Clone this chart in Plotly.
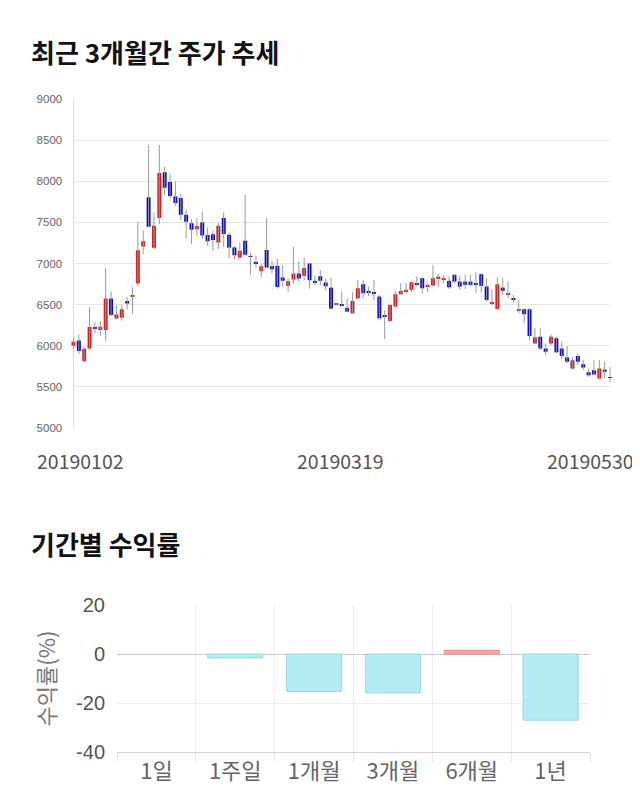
import plotly.graph_objects as go

# ---------------- data ----------------
trade_days = {
    1: [2, 3, 4, 7, 8, 9, 10, 11, 14, 15, 16, 17, 18, 21, 22, 23, 24, 25, 28, 29, 30, 31],
    2: [1, 7, 8, 11, 12, 13, 14, 15, 18, 19, 20, 21, 22, 25, 26, 27, 28],
    3: [4, 5, 6, 7, 8, 11, 12, 13, 14, 15, 18, 19, 20, 21, 22, 25, 26, 27, 28, 29],
    4: [1, 2, 3, 4, 5, 8, 9, 10, 11, 12, 15, 16, 17, 18, 19, 22, 23, 24, 25, 26, 29, 30],
    5: [2, 3, 7, 8, 9, 10, 13, 14, 15, 16, 17, 20, 21, 22, 23, 24, 27, 28, 29, 30],
}
dates = [f"2019{m:02d}{d:02d}" for m, days in trade_days.items() for d in days]

open_ = [6000, 6065, 5813, 5967, 6225, 6190, 6190, 6573, 6330, 6340,
         6545, 6597, 6756, 7207, 7805, 7191, 7553, 8110, 7990, 7815,
         7797, 7593, 7490, 7415, 7500, 7345, 7355, 7256, 7553, 7350,
         7195, 7073, 7276, 7090, 7020, 6906, 7163, 6967, 6971, 6830,
         6728, 6805, 6878, 6850, 7000, 6789, 6846, 6768, 6707, 6500,
         6500, 6460, 6394, 6577, 6748, 6667, 6650, 6598, 6366, 6301,
         6476, 6626, 6659, 6679, 6760, 6821, 6720, 6732, 6817, 6801,
         6789, 6862, 6780, 6780, 6780, 6752, 6870, 6720, 6508, 6447,
         6707, 6618, 6570, 6430, 6443, 6443, 6028, 6110, 5967, 6028,
         6090, 5967, 5858, 5724, 5874, 5776, 5679, 5703, 5601, 5711,
         5620]
high = [6100, 6140, 5990, 6470, 6290, 6300, 6950, 6660, 6490, 6500,
        6590, 6710, 7500, 7400, 8440, 7620, 8440, 8180, 8090, 8000,
        7845, 7660, 7540, 7550, 7630, 7440, 7400, 7490, 7620, 7380,
        7215, 7256, 7833, 7130, 7090, 7000, 7549, 7030, 7060, 6980,
        6817, 7203, 7028, 7073, 7008, 6860, 6920, 6817, 6825, 6520,
        6660, 6577, 6650, 6800, 6800, 6720, 6800, 6618, 6435, 6508,
        6667, 6760, 6760, 6780, 6841, 6830, 6760, 6984, 6874, 6858,
        6841, 6870, 6854, 6862, 6862, 6900, 6882, 6821, 6687, 6829,
        6821, 6780, 6618, 6557, 6455, 6455, 6211, 6211, 6028, 6138,
        6110, 6049, 5996, 5858, 5898, 5825, 5724, 5825, 5825, 5805,
        5740]
low = [5950, 5900, 5800, 5950, 6150, 6120, 6050, 6360, 6320, 6300,
       6440, 6390, 6720, 7110, 7440, 7170, 7480, 7830, 7790, 7700,
       7530, 7300, 7240, 7340, 7300, 7215, 7150, 7175, 7200, 7065,
       7050, 7050, 7095, 6870, 6950, 6840, 6940, 6880, 6695, 6715,
       6655, 6750, 6775, 6797, 6695, 6735, 6735, 6675, 6440, 6490,
       6475, 6410, 6385, 6557, 6577, 6605, 6557, 6320, 6080, 6290,
       6467, 6618, 6638, 6658, 6720, 6630, 6650, 6720, 6711, 6760,
       6691, 6760, 6680, 6691, 6720, 6646, 6646, 6537, 6496, 6443,
       6618, 6577, 6528, 6394, 6272, 6069, 6020, 5947, 5886, 6008,
       5906, 5845, 5793, 5711, 5764, 5703, 5622, 5642, 5589, 5601,
       5560]
close = [6050, 5935, 5963, 6228, 6205, 6232, 6575, 6375, 6380, 6445,
         6515, 6612, 7160, 7270, 7447, 7459, 8100, 7920, 7820, 7735,
         7593, 7508, 7410, 7455, 7340, 7270, 7285, 7460, 7358, 7195,
         7100, 7155, 7106, 7080, 7000, 6967, 6951, 6930, 6715, 6790,
         6785, 6878, 6817, 6947, 6797, 6770, 6790, 6724, 6451, 6515,
         6485, 6415, 6545, 6700, 6638, 6646, 6634, 6333, 6354, 6496,
         6626, 6667, 6680, 6772, 6748, 6699, 6740, 6821, 6841, 6821,
         6711, 6780, 6720, 6740, 6740, 6744, 6728, 6557, 6528, 6748,
         6667, 6630, 6557, 6440, 6382, 6118, 6102, 5967, 5927, 6110,
         5920, 5874, 5805, 5825, 5805, 5736, 5642, 5650, 5724, 5683,
         5610]

x_tick_dates = ["20190102", "20190319", "20190530"]
price_ticks = [5000, 5500, 6000, 6500, 7000, 7500, 8000, 8500, 9000]

periods = ["1일", "1주일", "1개월", "3개월", "6개월", "1년"]
returns = [0.0, -1.6, -15.3, -15.9, 1.5, -27.0]
return_ticks = [-40, -20, 0, 20]
return_tick_text = ["-40", "-20", "0", "20"]

# ---------------- styles ----------------
PAGE_OFF = 8           # default body margin of the html page
W, H = 640 - PAGE_OFF, 810 - PAGE_OFF
UP, DOWN = "#d42020", "#0c0cc4"
FONT = "Noto Sans CJK KR"
GRID = "#e6e6e6"


def px_x(p):
    return (p - PAGE_OFF) / W


def px_y(p):
    return 1 - (p - PAGE_OFF) / H


fig = go.Figure()

# invisible anchor trace so the grid subplot is drawn
fig.add_trace(go.Scatter(x=[0.5], y=[price_ticks[0]], mode="markers", marker=dict(opacity=0),
                         xaxis="x", yaxis="y", hoverinfo="skip", showlegend=False))

# wicks (low-high) as gray segments
wx, wy = [], []
for d, lo, hi in zip(dates, low, high):
    wx += [d, d, None]
    wy += [lo, hi, None]
fig.add_trace(go.Scatter(x=wx, y=wy, mode="lines", line=dict(color="#9a9a9a", width=1),
                         xaxis="x2", yaxis="y2", hoverinfo="skip", showlegend=False))

# bodies
base = [min(o, c) for o, c in zip(open_, close)]
size = [abs(c - o) for o, c in zip(open_, close)]
cols = [UP if c >= o else DOWN for o, c in zip(open_, close)]
fig.add_trace(go.Bar(x=dates, y=size, base=base, marker=dict(color=cols, line=dict(width=0)),
                     width=0.74, xaxis="x2", yaxis="y2", showlegend=False))

# returns bars
bar_fill = ["#f7a9a9" if v > 0 else "#b4ebf3" for v in returns]
bar_line = ["#ee8c8c" if v > 0 else "#97d9e3" for v in returns]
bar_lw = [1 if v != 0 else 0 for v in returns]
fig.add_trace(go.Bar(x=periods, y=returns,
                     marker=dict(color=bar_fill, line=dict(color=bar_line, width=bar_lw)),
                     width=0.7, xaxis="x3", yaxis="y3", showlegend=False))

top_dom = [px_y(428), px_y(99)]

fig.update_layout(
    width=W, height=H,
    margin=dict(l=0, r=0, t=0, b=0, autoexpand=False),
    paper_bgcolor="white", plot_bgcolor="rgba(0,0,0,0)",
    font=dict(family=FONT, color="#555"),
    bargap=0.3,
    # grid subplot (underneath)
    xaxis=dict(domain=[px_x(73.5), px_x(610)], range=[0, 1], visible=False, fixedrange=True),
    yaxis=dict(domain=top_dom, range=[5000, 9000], tickvals=price_ticks, anchor="x",
               showgrid=True, gridcolor=GRID, gridwidth=1, zeroline=False,
               showline=True, linecolor="#dddddd", linewidth=1,
               ticks="outside", ticklen=8, tickcolor="rgba(0,0,0,0)",
               tickfont=dict(family="Liberation Sans", size=11.5, color="#666")),
    # candle subplot
    xaxis2=dict(domain=[px_x(70.8), px_x(612.7)], type="category", categoryorder="array",
                categoryarray=dates, range=[-0.5, len(dates) - 0.5], anchor="y2",
                showgrid=False, showticklabels=False, ticks="", zeroline=False, showline=False),
    yaxis2=dict(domain=top_dom, range=[5000, 9000], anchor="x2", visible=False),
    # returns subplot
    xaxis3=dict(domain=[px_x(117), px_x(590)], type="category", anchor="y3",
                range=[-0.5, len(periods) - 0.5],
                tickson="boundaries", showgrid=True, gridcolor="#ececec",
                ticks="outside", ticklen=9, tickcolor="#e6e6e6",
                showline=True, linecolor="#d0d0d0", linewidth=1,
                tickfont=dict(family=FONT, size=22, color="#666")),
    yaxis3=dict(domain=[px_y(752), px_y(605)], range=[-40, 20], tickvals=return_ticks,
                ticktext=return_tick_text, anchor="x3",
                showgrid=True, gridcolor="#ececec", zeroline=True, zerolinecolor="#c8c8c8", zerolinewidth=1,
                showline=False, ticks="outside", ticklen=7, tickcolor="rgba(0,0,0,0)",
                tickfont=dict(family="Liberation Sans", size=20, color="#555"),
                title=dict(text="수익률(%)", font=dict(family=FONT, size=22, color="#777"), standoff=14)),
)

ann = [
    dict(text="<b>최근 3개월간 주가 추세</b>", x=px_x(29), y=px_y(51), xref="paper", yref="paper",
         xanchor="left", yanchor="middle", showarrow=False, font=dict(family=FONT, size=26, color="#111")),
    dict(text="<b>기간별 수익률</b>", x=px_x(29), y=px_y(543), xref="paper", yref="paper",
         xanchor="left", yanchor="middle", showarrow=False, font=dict(family=FONT, size=26, color="#111")),
]
shifts = [7, -1, -20]
for d, s in zip(x_tick_dates, shifts):
    ann.append(dict(text=d, x=dates.index(d), xref="x2", y=px_y(461), yref="paper", xshift=s,
                    xanchor="center", yanchor="middle", showarrow=False,
                    font=dict(family=FONT, size=19.5, color="#555")))
fig.update_layout(annotations=ann)

fig.write_html("out.html")
